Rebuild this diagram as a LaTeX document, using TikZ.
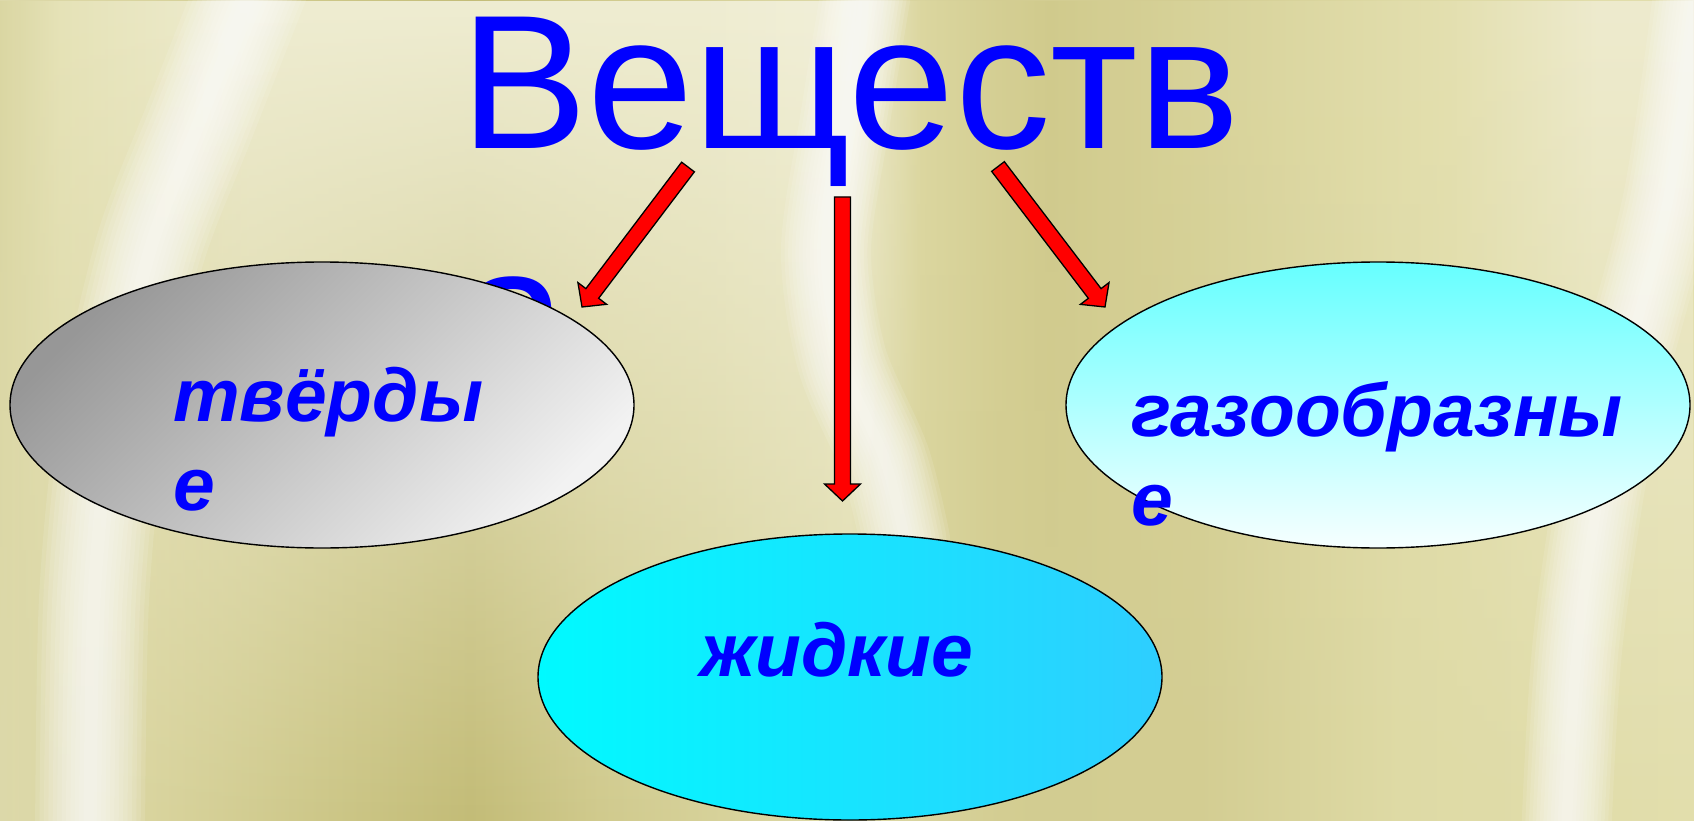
\documentclass[tikz,border=0pt]{standalone}
\usepackage{fontspec}
\setmainfont{Liberation Sans}
\usetikzlibrary{shapes.geometric,calc,fadings,positioning}
\usepackage{xcolor}
\definecolor{titleblue}{HTML}{0000FF}
\definecolor{arrowred}{HTML}{FF0000}
\definecolor{soliddark}{HTML}{979797}
\definecolor{solidlight}{HTML}{F2F2F2}
\definecolor{gastop}{HTML}{66FFFF}
\definecolor{gasbottom}{HTML}{F7FFFF}
\definecolor{liquidleft}{HTML}{00FAFF}
\definecolor{liquidright}{HTML}{2ECEFF}
% wall colours, upper band
\definecolor{hiA}{HTML}{DAD6A2}
\definecolor{hiB}{HTML}{E6E3B8}
\definecolor{hiC}{HTML}{EFEDD2}
\definecolor{hiD}{HTML}{F2F0DA}
\definecolor{hiE}{HTML}{DCD7A0}
\definecolor{hiF}{HTML}{D0CA8C}
\definecolor{hiG}{HTML}{D8D39A}
\definecolor{hiH}{HTML}{E4E0B0}
\definecolor{hiI}{HTML}{EEEBCE}
% wall colours, lower band
\definecolor{loA}{HTML}{DDD9AA}
\definecolor{loB}{HTML}{D9D49E}
\definecolor{loC}{HTML}{CBC585}
\definecolor{loD}{HTML}{C3BC77}
\definecolor{loE}{HTML}{D0CA8D}
\definecolor{loF}{HTML}{DEDAA8}
\definecolor{loG}{HTML}{D3CD92}
\definecolor{loH}{HTML}{DEDAA5}
\definecolor{loI}{HTML}{E2DEAC}
\pgfdeclarehorizontalshading{wallhi}{100bp}{color(0bp)=(hiA); color(25bp)=(hiA);
  color(26.8bp)=(hiB); color(32.4bp)=(hiC); color(45.7bp)=(hiC); color(50.1bp)=(hiD);
  color(52.2bp)=(hiE); color(56bp)=(hiF); color(60.4bp)=(hiG); color(67.8bp)=(hiH);
  color(72.2bp)=(hiI); color(75bp)=(hiI); color(100bp)=(hiI)}
\pgfdeclarehorizontalshading{walllo}{100bp}{color(0bp)=(loA); color(25bp)=(loA);
  color(29.4bp)=(loB); color(35.3bp)=(loC); color(38.9bp)=(loD); color(42.7bp)=(loE);
  color(50.1bp)=(loF); color(54.5bp)=(loG); color(60.4bp)=(loG); color(66.3bp)=(loH);
  color(75bp)=(loI); color(100bp)=(loI)}
\tikzfading[name=fadedown, top color=transparent!0, bottom color=transparent!100]

% soft light streak of the wall
\newcommand\glowline[2]{%
  \foreach \k in {1,0.92,...,0.1}
    \draw[white, opacity=0.11, line width=\k*#1pt, line cap=round, line join=round]
      plot[smooth] coordinates {#2};}
% block arrow from #1 to #2
\newcommand\blockarrow[2]{%
  \coordinate (#2-neck) at ($(#2)!17pt!(#1)$);
  \draw[blockarr] ($(#1)!8pt!90:(#2)$) -- ($(#2-neck)!8pt!-90:(#1)$)
    -- ($(#2-neck)!18pt!-90:(#1)$) -- (#2) -- ($(#2-neck)!18pt!90:(#1)$)
    -- ($(#2-neck)!8pt!90:(#1)$) -- ($(#1)!8pt!-90:(#2)$) -- cycle;}

\begin{document}
\begin{tikzpicture}[x=1pt, y=-1pt,
  title/.style={font=\fontsize{191pt}{230pt}\selectfont, text=titleblue, inner sep=0pt},
  phase/.style={ellipse, draw=black, line width=1.4pt, minimum width=624pt, minimum height=286pt, inner sep=0pt},
  phaselbl/.style={font=\fontsize{75pt}{89pt}\selectfont\bfseries\itshape, text=titleblue, align=left, inner sep=0pt},
  blockarr/.style={fill=arrowred, draw=black, line width=1.3pt, line join=miter},
]
  \useasboundingbox (0,0) rectangle (1694,821);

  % Wall
  \shade[shading=walllo] (0,0) rectangle (1694,821);
  \shade[shading=wallhi, path fading=fadedown] (0,0) rectangle (1694,821);
  \glowline{110}{(255,-20) (200,120) (150,250) (112,420) (94,600) (90,840)}
  \glowline{90}{(868,-20) (845,120) (826,250) (842,360) (885,460) (905,540)}
  \glowline{90}{(1700,-20) (1668,200) (1612,420) (1578,640) (1566,840)}

  % Title (second line hidden behind the ellipse)
  \node[title, anchor=base west] (title) at (460,149) {Веществ};
  \node[title, anchor=base west] (titletail) at (460,379) {а};

  % Phases
  \node[phase, top color=solidlight, bottom color=soliddark, shading angle=225] (solid) at (322,405) {};
  \node[phase, top color=gastop, bottom color=gasbottom] (gas) at (1378,405) {};
  \node[phase, left color=liquidleft, right color=liquidright] (liquid) at (850,677) {};

  % labels, anchored at the baseline of their last line
  \node[phaselbl, anchor=base west] (solidlbl) at ($(solid.center)+(-149,105)$) {твёрды\\е};
  \node[phaselbl, anchor=base west] (gaslbl) at ($(gas.center)+(-247,120)$) {газообразны\\е};
  \node[phaselbl, anchor=base west] (liquidlbl) at ($(liquid.center)+(-150,-1)$) {жидкие};

  % Arrows
  \coordinate (solidtail) at (688,167);
  \coordinate (solidtip) at (582,307);
  \coordinate (liquidtail) at (842.5,197);
  \coordinate (liquidtip) at (842.5,501);
  \coordinate (gastail) at (998,166.5);
  \coordinate (gastip) at (1105,307);
  \blockarrow{solidtail}{solidtip}
  \blockarrow{liquidtail}{liquidtip}
  \blockarrow{gastail}{gastip}
\end{tikzpicture}
\end{document}
